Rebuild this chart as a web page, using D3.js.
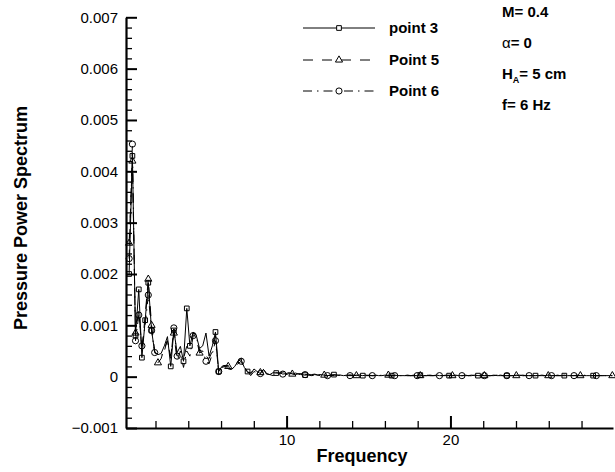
<!DOCTYPE html>
<html>
<head>
<meta charset="utf-8">
<script src="https://cdn.jsdelivr.net/npm/d3@7"></script>
<style>
body { margin: 0; background: #fff; }
text { font-family: Arial, "Liberation Sans", sans-serif; fill: #000; }
</style>
</head>
<body>
<svg id="chart" width="615" height="472"></svg>
<script>
// frequency bins (Hz)
let freq = [0.39,0.59,0.78,0.98,1.17,1.37,1.56,1.76,1.95,2.15,2.34,2.54,2.73,2.93,3.12,3.32,3.52,3.71,3.91,4.10,
  4.30,4.49,4.69,4.88,5.08,5.27,5.47,5.66,5.86,6.05,6.25,6.44,6.64,6.84,7.03,7.23,7.42,7.62,7.81,8.01,
  8.20,8.40,8.59,8.79,8.98,9.18,9.37,9.57,9.77,9.96,10.16,10.35,10.55,10.74,10.94,11.13,11.33,11.52,11.72,11.91,
  12.11,12.30,12.50,12.69,12.89,13.09,13.28,13.48,13.67,13.87,14.06,14.26,14.45,14.65,14.84,15.04,15.23,15.43,15.62,15.82,
  16.01,16.21,16.41,16.60,16.80,16.99,17.19,17.38,17.58,17.77,17.97,18.16,18.36,18.55,18.75,18.94,19.14,19.33,19.53,19.73,
  19.92,20.12,20.31,20.51,20.70,20.90,21.09,21.29,21.48,21.68,21.87,22.07,22.26,22.46,22.65,22.85,23.05,23.24,23.44,23.63,
  23.83,24.02,24.22,24.41,24.61,24.80,25.00,25.19,25.39,25.58,25.78,25.97,26.17,26.37,26.56,26.76,26.95,27.15,27.34,27.54,
  27.73,27.93,28.12,28.32,28.51,28.71,28.90,29.10,29.30,29.49,29.69,29.88];

let point3 = [2.0e-3,4.3e-3,8.0e-4,1.7e-3,3.7e-4,1.1e-3,1.83e-3,9.0e-4,4.8e-4,4.3e-4,
  4.5e-4,6.0e-4,7.8e-4,2.0e-4,9.0e-4,4.7e-4,5.9e-4,3.0e-4,1.33e-3,6.0e-4,
  8.7e-4,8.0e-4,5.5e-4,6.0e-4,8.5e-4,4.0e-4,6.0e-4,8.7e-4,1.0e-4,2.0e-4,
  2.2e-4,1.5e-4,1.4e-4,2.0e-4,3.0e-4,3.3e-4,1.8e-4,1.0e-4,5e-5,1.5e-4,
  1.0e-4,6e-5,1.4e-4,6e-5,4e-5,8e-5,7e-5,8e-5,5e-5,
  6e-5,8e-5,5e-5,4e-5,6e-5,4e-5,3e-5,5e-5,3e-5,4e-5,
  3e-5,4e-5,3e-5,2e-5,3e-5,4e-5,3e-5,3e-5,2e-5,3e-5,
  3e-5,2e-5,3e-5,3e-5,2e-5,3e-5,2e-5,2e-5,3e-5,2e-5,
  2e-5,3e-5,2e-5,2e-5,3e-5,2e-5,2e-5,2e-5,3e-5,2e-5,
  2e-5,2e-5,3e-5,2e-5,2e-5,2e-5,2e-5,3e-5,2e-5,2e-5,
  2e-5,2e-5,2e-5,3e-5,2e-5,2e-5,2e-5,2e-5,2e-5,3e-5,
  2e-5,2e-5,2e-5,2e-5,2e-5,3e-5,2e-5,2e-5,2e-5,2e-5,
  2e-5,2e-5,2e-5,3e-5,2e-5,2e-5,2e-5,2e-5,2e-5,2e-5,
  2e-5,2e-5,3e-5,2e-5,2e-5,2e-5,2e-5,2e-5,2e-5,2e-5,
  2e-5,3e-5,2e-5,2e-5,2e-5,2e-5,2e-5,2e-5,2e-5,2e-5,
  2e-5,2e-5,2e-5];

let point5 = [2.6e-3,4.2e-3,8.5e-4,1.3e-3,5.0e-4,1.2e-3,1.9e-3,1.0e-3,5.0e-4,2.7e-4,
  3.5e-4,5.5e-4,7.0e-4,4.0e-4,8.5e-4,3.0e-4,5.0e-4,3.5e-4,6.0e-4,6.6e-4,
  8.5e-4,7.5e-4,4.6e-4,5.0e-4,4.0e-4,3.5e-4,5.0e-4,8.0e-4,4e-5,2.0e-4,
  2.2e-4,2.0e-4,1.2e-4,1.8e-4,3.0e-4,3.6e-4,2.0e-4,8e-5,8e-5,1.2e-4,
  1.3e-4,8e-5,1.4e-4,5e-5,6e-5,7e-5,8e-5,6e-5,9e-5,
  1.0e-4,7e-5,5e-5,7e-5,5e-5,6e-5,1.0e-4,5e-5,4e-5,5e-5,
  3e-5,4e-5,3e-5,3e-5,2e-5,3e-5,3e-5,2e-5,3e-5,2e-5,
  3e-5,3e-5,2e-5,3e-5,2e-5,2e-5,3e-5,2e-5,2e-5,3e-5,
  2e-5,2e-5,3e-5,2e-5,2e-5,2e-5,3e-5,2e-5,2e-5,2e-5,
  3e-5,2e-5,2e-5,2e-5,2e-5,3e-5,2e-5,2e-5,2e-5,2e-5,
  3e-5,2e-5,2e-5,2e-5,2e-5,2e-5,3e-5,2e-5,2e-5,2e-5,
  2e-5,3e-5,2e-5,2e-5,2e-5,2e-5,2e-5,3e-5,2e-5,2e-5,
  2e-5,2e-5,2e-5,2e-5,3e-5,2e-5,2e-5,2e-5,2e-5,2e-5,
  3e-5,2e-5,2e-5,2e-5,2e-5,2e-5,2e-5,3e-5,2e-5,2e-5,
  2e-5,2e-5,2e-5,2e-5,3e-5,2e-5,2e-5,2e-5,2e-5,2e-5,
  2e-5,2e-5,2e-5];

let point6 = [2.3e-3,4.53e-3,7.0e-4,1.2e-3,6.0e-4,1.0e-3,1.59e-3,9.0e-4,4.7e-4,4.4e-4,
  4.0e-4,5.0e-4,7.2e-4,3.5e-4,9.5e-4,4.0e-4,4.5e-4,1.8e-4,5.0e-4,4.0e-4,
  8.0e-4,7.8e-4,5.0e-4,5.0e-4,3.0e-4,2.5e-4,4.5e-4,7.0e-4,1.0e-4,1.8e-4,
  2.0e-4,2.2e-4,1.4e-4,2.0e-4,2.5e-4,3.0e-4,1.5e-4,1.0e-4,2e-5,1.0e-4,
  8e-5,6e-5,1.0e-4,5e-5,4e-5,2e-5,4e-5,6e-5,5e-5,
  4e-5,6e-5,7e-5,4e-5,5e-5,3e-5,4e-5,3e-5,2e-5,3e-5,
  2e-5,3e-5,2e-5,2e-5,3e-5,2e-5,2e-5,3e-5,2e-5,2e-5,
  2e-5,2e-5,2e-5,3e-5,2e-5,2e-5,2e-5,2e-5,2e-5,2e-5,
  3e-5,2e-5,2e-5,2e-5,2e-5,2e-5,2e-5,3e-5,2e-5,2e-5,
  2e-5,2e-5,2e-5,2e-5,3e-5,2e-5,2e-5,2e-5,2e-5,2e-5,
  2e-5,3e-5,2e-5,2e-5,2e-5,2e-5,2e-5,2e-5,3e-5,2e-5,
  2e-5,2e-5,2e-5,2e-5,2e-5,2e-5,3e-5,2e-5,2e-5,2e-5,
  2e-5,2e-5,3e-5,2e-5,2e-5,2e-5,2e-5,2e-5,2e-5,3e-5,
  2e-5,2e-5,2e-5,2e-5,2e-5,3e-5,2e-5,2e-5,2e-5,2e-5,
  2e-5,2e-5,2e-5,3e-5,2e-5,2e-5,2e-5,2e-5,2e-5,2e-5,
  2e-5,2e-5,2e-5];

let seriesNames = ["point 3", "Point 5", "Point 6"];
let yMajorTicks = [-0.001, 0, 0.001, 0.002, 0.003, 0.004, 0.005, 0.006, 0.007];
let xMajorTicks = [10, 20];
let notes = ["M= 0.4", "\u03b1= 0", "H_A= 5 cm", "f= 6 Hz"];

var svg = d3.select("#chart");

var xScale = d3.scaleLinear().domain([0.2, 29.92]).range([126, 613]);
var yScale = d3.scaleLinear().domain([-0.001, 0.007]).range([428, 17.3]);

// minor ticks every 0.0002 on y, every 2 on x
var yMinor = d3.range(-0.001, 0.00701, 0.0002).filter(function(v){ return Math.abs(v*1000 - Math.round(v*1000)) > 1e-6; });
var xMinor = d3.range(2, 30, 2).filter(function(v){ return v % 10 != 0; });

svg.append("g")
  .attr("transform", "translate(126,0)")
  .call(d3.axisLeft(yScale).tickValues(yMinor).tickSizeInner(-6).tickSizeOuter(0).tickFormat(""))
  .call(function(g){ g.select(".domain").remove(); g.selectAll("line").attr("stroke-width", 1.3); });

svg.append("g")
  .attr("transform", "translate(126,0)")
  .call(d3.axisLeft(yScale).tickValues(yMajorTicks).tickSizeInner(-11).tickSizeOuter(0).tickPadding(8)
    .tickFormat(function(d){ return d == 0 ? "0" : d3.format(".3f")(d); }))
  .call(function(g){
    g.select(".domain").attr("stroke-width", 2.2);
    g.selectAll("line").attr("stroke-width", 2);
    g.selectAll("text").style("font-size", "15px").style("font-family", "Arial, 'Liberation Sans', sans-serif");
  });

svg.append("g")
  .attr("transform", "translate(0,428)")
  .call(d3.axisBottom(xScale).tickValues(xMinor).tickSizeInner(-7).tickSizeOuter(0).tickFormat(""))
  .call(function(g){ g.select(".domain").remove(); g.selectAll("line").attr("stroke-width", 1.3); });

svg.append("g")
  .attr("transform", "translate(0,428)")
  .call(d3.axisBottom(xScale).tickValues(xMajorTicks).tickSizeInner(-12).tickSizeOuter(0).tickPadding(6))
  .call(function(g){
    g.select(".domain").attr("stroke-width", 2.2);
    g.selectAll("line").attr("stroke-width", 2);
    g.selectAll("text").style("font-size", "15px").style("font-family", "Arial, 'Liberation Sans', sans-serif");
  });

// axis titles
svg.append("text")
  .attr("x", 362).attr("y", 462)
  .attr("text-anchor", "middle")
  .style("font-size", "18px").style("font-weight", "bold")
  .text("Frequency");

svg.append("text")
  .attr("transform", "translate(27,218) rotate(-90)")
  .attr("text-anchor", "middle")
  .style("font-size", "18px").style("font-weight", "bold")
  .text("Pressure Power Spectrum");

// series
var styles = [
  {vals: point3, dash: null, shape: d3.symbolSquare, size: 22, gap: 27},
  {vals: point5, dash: "10,9", shape: d3.symbolTriangle, size: 22, gap: 30},
  {vals: point6, dash: "9,5,1.5,5", shape: d3.symbolCircle, size: 30, gap: 21}
];

var line = d3.line()
  .x(function(d, i){ return xScale(freq[i]); })
  .y(function(d){ return yScale(d); });

// pick symbol positions by screen distance, like the plotting program skips symbols
function markerIdx(vals, gap){
  var idx = [0];
  var lx = xScale(freq[0]), ly = yScale(vals[0]);
  for (let i = 1; i < vals.length; i++){
    var px = xScale(freq[i]), py = yScale(vals[i]);
    if (Math.hypot(px - lx, py - ly) >= gap){
      idx.push(i); lx = px; ly = py;
    }
  }
  return idx;
}

styles.forEach(function(s){
  svg.append("path")
    .datum(s.vals)
    .attr("d", line)
    .attr("fill", "none")
    .attr("stroke", "#000")
    .attr("stroke-width", 1)
    .attr("stroke-dasharray", s.dash);

  svg.selectAll(null)
    .data(markerIdx(s.vals, s.gap))
    .enter().append("path")
    .attr("d", d3.symbol().type(s.shape).size(s.size))
    .attr("transform", function(i){ return "translate(" + xScale(freq[i]) + "," + yScale(s.vals[i]) + ")"; })
    .attr("fill", "none")
    .attr("stroke", "#000")
    .attr("stroke-width", 1);
});

// legend
var legY = [28, 60, 91];
styles.forEach(function(s, k){
  svg.append("line")
    .attr("x1", 303).attr("x2", 375)
    .attr("y1", legY[k]).attr("y2", legY[k])
    .attr("stroke", "#000").attr("stroke-width", 1)
    .attr("stroke-dasharray", s.dash);
  svg.append("path")
    .attr("d", d3.symbol().type(s.shape).size(s.size))
    .attr("transform", "translate(339," + legY[k] + ")")
    .attr("fill", "#fff").attr("stroke", "#000");
  svg.append("text")
    .attr("x", 389).attr("y", legY[k] + 5)
    .style("font-size", "15px").style("font-weight", "bold")
    .text(seriesNames[k]);
});

// case notes
var noteY = [16.7, 47.7, 78.7, 110];
notes.forEach(function(n, k){
  var t = svg.append("text")
    .attr("x", 502).attr("y", noteY[k])
    .style("font-size", "15px").style("font-weight", "bold");
  if (n.indexOf("\u03b1") == 0){
    t.append("tspan").style("font-weight", "normal").text("\u03b1");
    t.append("tspan").text(n.slice(1));
  } else if (n.indexOf("_") > 0){
    t.append("tspan").text(n.split("_")[0]);
    t.append("tspan").attr("dy", 4).style("font-size", "9px").text(n.split("_")[1].charAt(0));
    t.append("tspan").attr("dy", -4).text(n.split("_")[1].slice(1));
  } else {
    t.text(n);
  }
});
</script>
</body>
</html>
